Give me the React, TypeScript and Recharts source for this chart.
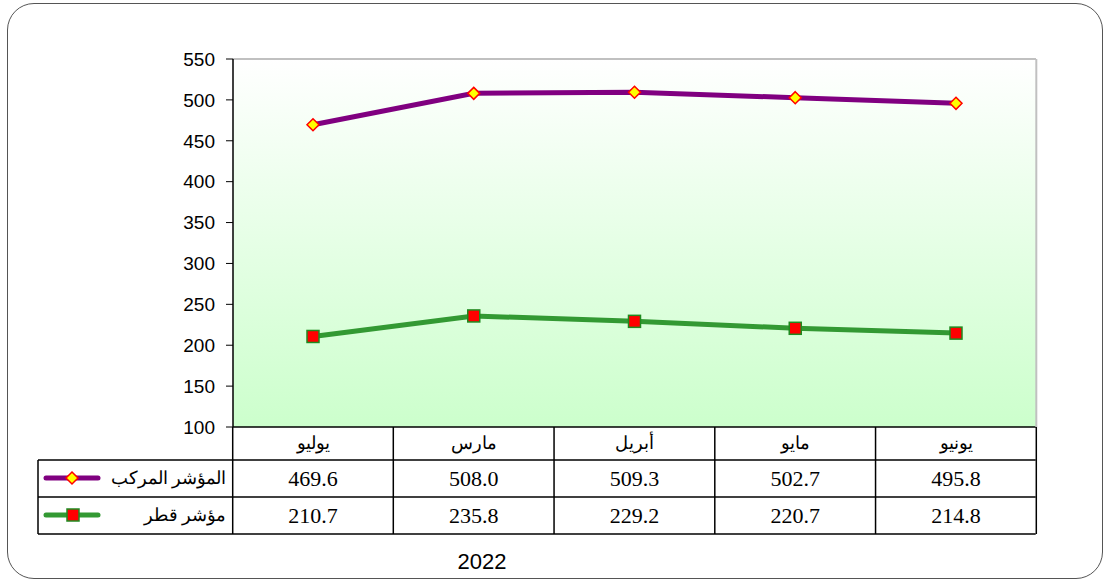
import React from 'react';
import { LineChart, Line, XAxis, YAxis, CartesianGrid, ReferenceLine } from 'recharts';

const months = ['يوليو', 'مارس', 'أبريل', 'مايو', 'يونيو'];
const compositeIndex = [469.6, 508.0, 509.3, 502.7, 495.8];
const qatarIndex = [210.7, 235.8, 229.2, 220.7, 214.8];
const yTicks = [100, 150, 200, 250, 300, 350, 400, 450, 500, 550];
const seriesNames = ['المؤشر المركب', 'مؤشر قطر'];
const yearLabel = '2022';

const data = months.map((month, i) => ({
  month,
  composite: compositeIndex[i],
  qatar: qatarIndex[i],
}));

const PURPLE = '#800080';
const GREEN = '#339933';
const SERIF = '"Times New Roman", "Liberation Serif", serif';
const SANS = 'Arial, "Liberation Sans", sans-serif';

// table geometry (under the plot)
const PLOT_TOP = 59;
const TABLE_TOP = 427;
const ROW1 = 460;
const ROW2 = 497;
const TABLE_BOTTOM = 534;
const TABLE_LEFT = 38;
const COL_W = 160.6;

const DiamondDot = (props: any) => {
  const { cx, cy } = props;
  if (cx == null || cy == null) return null;
  const s = 6;
  return (
    <polygon
      points={`${cx},${cy - s} ${cx + s},${cy} ${cx},${cy + s} ${cx - s},${cy}`}
      fill="#ffff00"
      stroke="#ff0000"
      strokeWidth={1.5}
    />
  );
};

const SquareDot = (props: any) => {
  const { cx, cy } = props;
  if (cx == null || cy == null) return null;
  return <rect x={cx - 6} y={cy - 6} width={12} height={12} fill="#ff0000" stroke="#1f8a1f" strokeWidth={1.5} />;
};

const TableTick = (props: any) => {
  const { x, payload } = props;
  const i = payload.index;
  const left = x - COL_W / 2;
  const right = x + COL_W / 2;
  const tableRight = left + COL_W * (months.length - i);
  const last = i === months.length - 1;
  return (
    <g>
      {i === 0 && (
        <g>
          <line x1={left} y1={TABLE_TOP} x2={left} y2={TABLE_BOTTOM} stroke="#000" strokeWidth={1.5} />
          <line x1={TABLE_LEFT} y1={ROW1} x2={tableRight} y2={ROW1} stroke="#000" strokeWidth={1.5} />
          <line x1={TABLE_LEFT} y1={ROW2} x2={tableRight} y2={ROW2} stroke="#000" strokeWidth={1.5} />
          <line x1={TABLE_LEFT} y1={TABLE_BOTTOM} x2={tableRight} y2={TABLE_BOTTOM} stroke="#000" strokeWidth={1.5} />
          <line x1={TABLE_LEFT} y1={ROW1} x2={TABLE_LEFT} y2={TABLE_BOTTOM} stroke="#000" strokeWidth={1.5} />
          {/* legend keys */}
          <line x1={46} y1={478} x2={98} y2={478} stroke={PURPLE} strokeWidth={5} strokeLinecap="round" />
          <DiamondDot cx={72} cy={478} />
          <line x1={46} y1={515} x2={98} y2={515} stroke={GREEN} strokeWidth={5} strokeLinecap="round" />
          <SquareDot cx={73} cy={515} />
          <text x={226} y={484} textAnchor="end" fontSize={18} fontFamily={SERIF} fill="#000">
            {seriesNames[0]}
          </text>
          <text x={226} y={521} textAnchor="end" fontSize={18} fontFamily={SERIF} fill="#000">
            {seriesNames[1]}
          </text>
          <text x={482} y={569} textAnchor="middle" fontSize={22} fontFamily={SANS} fill="#000">
            {yearLabel}
          </text>
        </g>
      )}
      {last && <line x1={right} y1={PLOT_TOP} x2={right} y2={TABLE_TOP} stroke="#c0c0c0" strokeWidth={2} />}
      <line x1={right} y1={TABLE_TOP} x2={right} y2={TABLE_BOTTOM} stroke="#000" strokeWidth={1.5} />
      <text x={x} y={449} textAnchor="middle" fontSize={18} fontFamily={SERIF} fill="#000">
        {payload.value}
      </text>
      <text x={x} y={486} textAnchor="middle" fontSize={22} fontFamily={SERIF} fill="#000">
        {compositeIndex[i].toFixed(1)}
      </text>
      <text x={x} y={523} textAnchor="middle" fontSize={22} fontFamily={SERIF} fill="#000">
        {qatarIndex[i].toFixed(1)}
      </text>
    </g>
  );
};

export default function App() {
  return (
    <div style={{ position: 'absolute', left: 0, top: 0, width: 1105, height: 583, background: '#fff' }}>
      <div
        style={{
          position: 'absolute',
          left: 7,
          top: 3,
          width: 1096,
          height: 576,
          border: '1.5px solid #555',
          borderRadius: 27,
          boxSizing: 'border-box',
        }}
      />
      <div style={{ position: 'absolute', left: 0, top: 0 }}>
        <LineChart width={1105} height={583} data={data} margin={{ top: PLOT_TOP, right: 69, bottom: 0, left: 173 }}>
          <defs>
            <linearGradient id="plotBg" x1="0" y1="0" x2="0" y2="1">
              <stop offset="0%" stopColor="#ffffff" />
              <stop offset="100%" stopColor="#ccffcc" />
            </linearGradient>
          </defs>
          <CartesianGrid fill="url(#plotBg)" horizontal={false} vertical={false} />
          <ReferenceLine y={550} stroke="#c0c0c0" strokeWidth={2} />
          <XAxis
            dataKey="month"
            height={156}
            interval={0}
            padding={{ left: 80, right: 80 }}
            axisLine={{ stroke: '#000', strokeWidth: 1.5 }}
            tickLine={false}
            tick={<TableTick />}
          />
          <YAxis
            domain={[100, 550]}
            ticks={yTicks}
            interval={0}
            width={60}
            tickSize={7}
            tickMargin={11}
            axisLine={{ stroke: '#000', strokeWidth: 1.5 }}
            tickLine={{ stroke: '#000' }}
            tick={{ fill: '#000', fontSize: 19, fontFamily: SANS }}
          />
          <Line
            dataKey="composite"
            stroke={PURPLE}
            strokeWidth={5}
            dot={<DiamondDot />}
            activeDot={false}
            isAnimationActive={false}
          />
          <Line
            dataKey="qatar"
            stroke={GREEN}
            strokeWidth={5}
            dot={<SquareDot />}
            activeDot={false}
            isAnimationActive={false}
          />
        </LineChart>
      </div>
    </div>
  );
}
